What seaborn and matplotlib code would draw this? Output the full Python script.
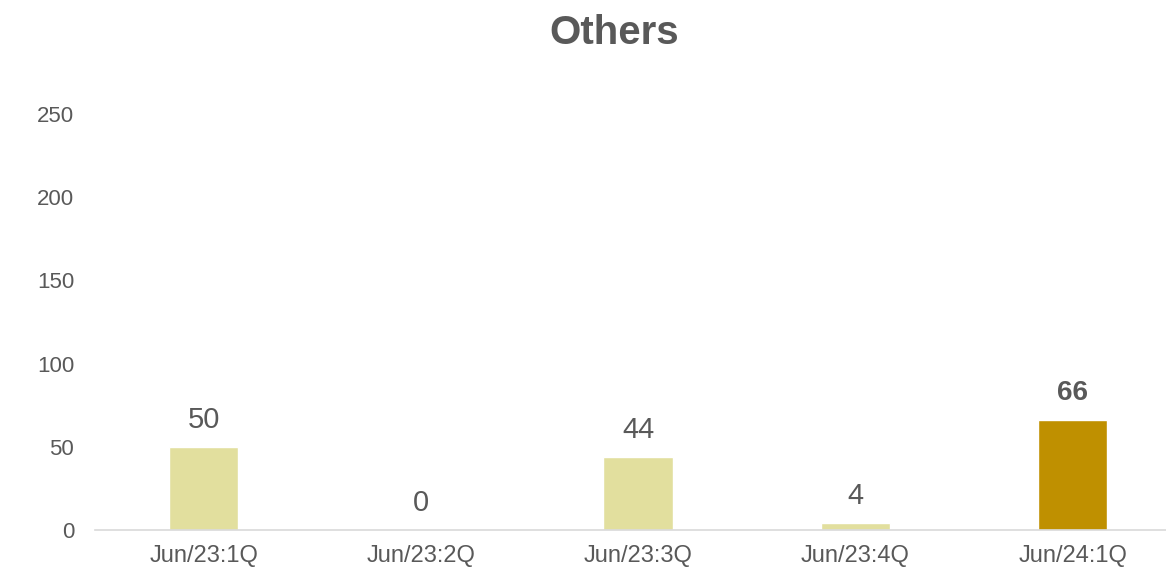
import matplotlib
matplotlib.use("Agg")
import matplotlib.pyplot as plt
import seaborn as sns
import pandas as pd

quarters = ["Jun/23:1Q", "Jun/23:2Q", "Jun/23:3Q", "Jun/23:4Q", "Jun/24:1Q"]
values = [50, 0, 44, 4, 66]
highlight = [False, False, False, False, True]

LIGHT = "#E2DF9E"
DARK = "#BF9000"
TEXT = "#595959"

sns.set_theme(style="white")
plt.rcParams["font.family"] = ["Liberation Sans", "DejaVu Sans"]

df = pd.DataFrame({"quarter": quarters, "value": values})
palette = [DARK if h else LIGHT for h in highlight]

fig = plt.figure(figsize=(11.66, 5.67), dpi=100)
ax = fig.add_axes([0.0815, 0.0653, 0.9185, 0.7337])

sns.barplot(data=df, x="quarter", y="value", hue="quarter", palette=palette,
            width=0.32, legend=False, ax=ax, saturation=1)

ax.set_ylim(0, 250)
ax.set_xlim(-0.5, 4.43)
ax.set_yticks([0, 50, 100, 150, 200, 250])
ax.set_xlabel("")
ax.set_ylabel("")
ax.tick_params(axis="both", colors=TEXT, length=0)
ax.tick_params(axis="y", pad=15, labelsize=16)
ax.tick_params(axis="x", pad=11, labelsize=17)

for side in ["top", "right", "left"]:
    ax.spines[side].set_visible(False)
ax.spines["bottom"].set_color("#D9D9D9")
ax.spines["bottom"].set_linewidth(1.2)

for i, (v, h) in enumerate(zip(values, highlight)):
    ax.annotate(str(v), (i, v), xytext=(0, 19.5), textcoords="offset points",
                ha="center", va="center", fontsize=20 if h else 21,
                color=TEXT, fontweight="bold" if h else "normal")

fig.text(0.527, 0.942, "Others", ha="center", va="center", fontsize=29,
         fontweight="bold", color=TEXT)

fig.savefig("out.png", dpi=100)
